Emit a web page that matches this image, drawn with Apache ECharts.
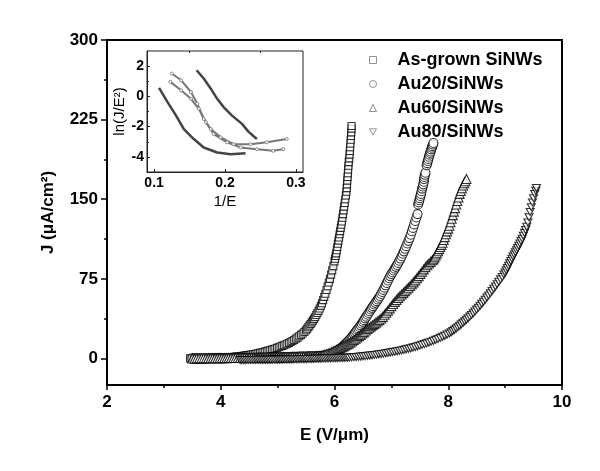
<!DOCTYPE html>
<html>
<head>
<meta charset="utf-8">
<script src="https://cdn.jsdelivr.net/npm/echarts@6/dist/echarts.min.js"></script>
<style>
  html, body { margin: 0; padding: 0; background: #fff; }
  #chart { width: 600px; height: 471px; }
</style>
</head>
<body>
<div id="chart"></div>
<script>
// names of the four samples
const seriesNames = ['As-grown SiNWs', 'Au20/SiNWs', 'Au60/SiNWs', 'Au80/SiNWs']

// main plot: [E (V/um), J (uA/cm2)]
const asGrown = [
  [3.46,0.1],[3.49,0.1],[3.52,0.1],[3.55,0.1],[3.58,0.2],[3.61,0.2],[3.64,0.2],[3.67,0.2],[3.70,0.2],
  [3.73,0.3],[3.76,0.3],[3.79,0.3],[3.82,0.4],[3.85,0.4],[3.88,0.4],[3.91,0.5],[3.94,0.5],[3.97,0.6],
  [4.00,0.7],[4.03,0.7],[4.06,0.8],[4.09,0.9],[4.12,1.0],[4.15,1.1],[4.18,1.2],[4.21,1.4],[4.24,1.5],
  [4.27,1.7],[4.30,1.9],[4.33,2.0],[4.36,2.2],[4.39,2.4],[4.42,2.7],[4.45,2.9],[4.48,3.1],[4.51,3.4],
  [4.54,3.7],[4.57,3.9],[4.60,4.2],[4.63,4.6],[4.66,4.9],[4.69,5.3],[4.72,5.6],[4.75,6.0],[4.78,6.4],
  [4.81,6.9],[4.84,7.4],[4.87,7.8],[4.90,8.3],[4.93,8.9],[4.96,9.4],[4.99,10.0],
  [5.02,10.6],[5.05,11.2],[5.08,11.9],[5.11,12.5],[5.14,13.2],[5.17,13.9],[5.20,14.6],[5.23,15.5],
  [5.26,16.4],[5.29,17.4],[5.32,18.5],[5.35,19.6],[5.38,20.9],[5.41,22.2],[5.44,23.5],[5.47,25.0],
  [5.50,26.6],[5.52,28.0],[5.54,29.4],[5.56,30.9],[5.58,32.4],[5.60,34.0],[5.62,35.6],[5.64,37.3],
  [5.66,39.0],[5.68,40.9],[5.70,42.8],[5.72,44.8],[5.74,47.0],[5.76,49.5],[5.78,52.0],[5.80,55.0],
  [5.82,58.0],[5.84,61.0],[5.86,64.5],[5.88,68.0],[5.90,71.5],[5.92,75.0],[5.94,79.0],[5.96,83.0],
  [5.98,87.0],[6.00,91.5],[6.01,94],[6.02,96.5],[6.03,99],[6.04,102],[6.05,105],[6.06,108],
  [6.07,111],[6.08,114],[6.09,117],[6.10,120],[6.11,123],[6.12,126],[6.13,129],[6.14,132.5],
  [6.15,136],[6.16,139.5],[6.17,143],[6.18,146.5],[6.19,150],[6.20,153.5],[6.21,157],[6.215,160.5],
  [6.22,164],[6.225,167.5],[6.23,171],[6.235,174.5],[6.24,178],[6.245,181.5],[6.25,185],[6.26,188.5],
  [6.265,192],[6.27,195.5],[6.275,199],[6.28,202.5],[6.285,206],[6.29,209.5],[6.295,213],[6.30,216.5],
  [6.30,219]
]
const au20 = [
  [3.50,0.1],[3.54,0.1],[3.58,0.1],[3.62,0.1],[3.66,0.2],[3.70,0.2],[3.74,0.2],[3.78,0.2],[3.82,0.2],
  [3.86,0.3],[3.90,0.3],[3.94,0.3],[3.98,0.3],[4.02,0.3],[4.06,0.4],[4.10,0.4],[4.14,0.4],[4.18,0.4],
  [4.22,0.5],[4.26,0.5],[4.30,0.5],[4.34,0.5],[4.38,0.6],[4.42,0.6],[4.46,0.6],[4.50,0.6],[4.54,0.7],
  [4.58,0.7],[4.62,0.7],[4.66,0.8],[4.70,0.8],[4.74,0.9],[4.78,0.9],[4.82,0.9],[4.86,1.0],[4.90,1.0],
  [4.94,1.1],[4.98,1.1],[5.02,1.2],[5.06,1.2],[5.10,1.3],[5.14,1.3],[5.18,1.4],[5.22,1.4],[5.26,1.5],
  [5.30,1.6],[5.34,1.6],[5.38,1.7],[5.42,1.8],[5.46,1.8],[5.50,1.9],[5.54,2.0],[5.58,2.0],[5.62,2.1],
  [5.66,2.1],[5.70,2.2],[5.74,2.2],[5.78,2.3],
  [5.82,2.6],[5.85,3.0],[5.88,3.4],[5.91,3.8],[5.94,4.3],[5.97,4.9],[6.00,5.8],[6.02,6.3],[6.04,6.9],
  [6.06,7.5],[6.08,8.2],[6.10,9.1],[6.12,10.0],[6.14,11.0],[6.16,12.0],[6.18,13.0],[6.20,14.0],
  [6.22,15.1],[6.24,16.2],[6.26,17.3],[6.28,18.5],[6.30,19.9],[6.32,21.3],[6.34,22.8],[6.36,24.2],
  [6.38,25.6],[6.40,27.0],[6.42,28.3],[6.44,29.6],[6.46,31.2],[6.48,32.8],[6.50,34.5],[6.52,36.1],
  [6.54,37.8],[6.56,39.4],[6.58,41.2],[6.60,42.8],[6.62,44.5],[6.64,46.1],[6.66,47.7],[6.68,49.3],
  [6.70,50.8],[6.72,52.4],[6.74,54.0],[6.76,55.6],[6.78,57.2],[6.80,58.8],[6.82,60.7],[6.84,62.6],
  [6.86,64.6],[6.88,66.7],[6.90,68.9],[6.92,71.2],[6.94,73.4],[6.96,75.6],[6.98,77.6],[7.00,79.5],
  [7.02,81.2],[7.04,82.9],[7.06,84.6],[7.08,86.3],[7.10,88.1],[7.12,90.0],[7.14,92.0],[7.16,94.1],
  [7.18,96.3],[7.20,98.6],[7.22,100.9],[7.24,103.3],[7.26,105.8],[7.28,108.3],[7.30,110.8],[7.32,113.4],
  [7.34,116.5],[7.36,119.8],[7.38,123.0],[7.40,126.3],[7.42,129.5],[7.44,132.8],[7.46,136.0],
  [7.47,145],[7.48,147],[7.49,149],[7.50,151],[7.51,153],[7.52,155],[7.53,157.5],[7.54,160],[7.55,162],
  [7.56,164],[7.57,166.5],[7.575,169],[7.58,171],[7.59,173],[7.60,175],
  [7.62,182],[7.63,184],[7.64,186],[7.65,188],[7.66,190],[7.67,192],[7.68,193.5],[7.69,195],[7.70,197],
  [7.71,198.5],[7.72,200],[7.73,201.5],[7.74,203]
]
const au60 = [
  [3.50,0.0],[3.54,0.0],[3.58,0.1],[3.62,0.1],[3.66,0.1],[3.70,0.1],[3.74,0.1],[3.78,0.2],[3.82,0.2],
  [3.86,0.2],[3.90,0.2],[3.94,0.2],[3.98,0.3],[4.02,0.3],[4.06,0.3],[4.10,0.3],[4.14,0.4],[4.18,0.4],
  [4.22,0.4],[4.26,0.4],[4.30,0.4],[4.34,0.5],[4.38,0.5],[4.42,0.5],[4.46,0.5],[4.50,0.5],[4.54,0.6],
  [4.58,0.6],[4.62,0.6],[4.66,0.7],[4.70,0.7],[4.74,0.7],[4.78,0.8],[4.82,0.8],[4.86,0.9],[4.90,0.9],
  [4.94,0.9],[4.98,1.0],[5.02,1.0],[5.06,1.1],[5.10,1.1],[5.14,1.2],[5.18,1.2],[5.22,1.3],[5.26,1.3],
  [5.30,1.4],[5.34,1.4],[5.38,1.5],[5.42,1.5],[5.46,1.6],[5.50,1.7],[5.54,1.8],[5.58,1.8],[5.62,1.9],
  [5.66,2.0],[5.70,2.1],
  [5.74,2.4],[5.77,2.8],[5.80,3.2],[5.83,3.6],[5.86,4.1],[5.89,4.6],[5.92,5.2],[5.95,6.1],[5.98,6.9],
  [6.01,7.5],[6.04,8.2],[6.07,8.9],[6.10,9.8],[6.13,10.6],[6.16,11.4],[6.19,12.3],[6.22,13.1],[6.25,14.0],
  [6.28,15.2],[6.31,16.2],[6.34,17.4],[6.37,18.6],[6.40,19.8],[6.43,21.0],[6.46,22.2],[6.49,23.5],
  [6.52,24.8],[6.55,26.3],[6.58,27.8],[6.61,29.0],[6.64,30.2],[6.67,31.4],[6.70,32.6],[6.73,33.8],
  [6.76,35.0],[6.79,36.2],[6.82,37.6],[6.85,39.2],[6.88,41.2],[6.91,43.0],[6.94,45.1],[6.97,47.2],
  [7.00,49.3],[7.03,51.3],[7.06,53.3],[7.09,55.1],[7.12,56.9],[7.15,58.6],[7.18,60.2],[7.21,61.8],
  [7.24,63.4],[7.27,65.0],[7.30,66.6],[7.33,68.2],[7.36,69.9],[7.39,71.7],[7.42,73.6],[7.45,75.5],
  [7.48,77.6],[7.51,79.7],[7.54,81.8],[7.57,83.9],[7.60,86.0],[7.63,87.8],[7.66,89.5],[7.69,91.0],
  [7.72,92.5],[7.74,93.5],[7.76,95.2],[7.78,97.0],[7.80,99.0],[7.82,101.0],[7.84,103.0],[7.86,105.0],
  [7.88,107.0],[7.90,109.0],[7.92,111.6],[7.94,114.3],[7.96,117.0],[7.98,119.7],[8.00,122.3],[8.02,125.0],
  [8.04,128.3],[8.06,131.6],[8.08,135.0],[8.10,138.3],[8.12,141.6],[8.14,145.0],[8.16,148.3],[8.18,151.6],
  [8.20,155.0],[8.22,157.7],[8.24,160.3],[8.26,163.0],[8.28,165.0],[8.30,167.0],[8.32,169.0]
]
const au80 = [
  [4.34,-1.5],[4.37,-1.5],[4.40,-1.5],[4.43,-1.5],[4.46,-1.4],[4.49,-1.4],[4.52,-1.4],[4.55,-1.4],
  [4.58,-1.4],[4.61,-1.3],[4.64,-1.3],[4.67,-1.3],[4.70,-1.3],[4.73,-1.3],[4.76,-1.2],[4.79,-1.2],
  [4.82,-1.2],[4.85,-1.2],[4.88,-1.2],[4.91,-1.1],[4.94,-1.1],[4.97,-1.1],[5.00,-1.0],[5.03,-1.0],
  [5.06,-1.0],[5.09,-1.0],[5.12,-0.9],[5.15,-0.9],[5.18,-0.9],[5.21,-0.8],[5.24,-0.8],[5.27,-0.8],
  [5.30,-0.7],[5.33,-0.7],[5.36,-0.7],[5.39,-0.6],[5.42,-0.6],[5.45,-0.6],[5.48,-0.5],[5.51,-0.5],
  [5.54,-0.4],[5.57,-0.4],[5.60,-0.3],[5.63,-0.3],[5.66,-0.2],[5.69,-0.2],[5.72,-0.1],[5.75,-0.1],
  [5.78,0.0],[5.81,0.0],[5.84,0.1],[5.87,0.1],[5.90,0.2],[5.93,0.2],[5.96,0.3],[5.99,0.3],
  [6.02,0.4],[6.05,0.4],[6.08,0.5],[6.11,0.5],[6.14,0.6],[6.17,0.6],[6.20,0.7],[6.23,0.7],[6.26,0.8],
  [6.30,1.0],[6.34,1.2],[6.38,1.4],[6.42,1.6],[6.46,1.8],[6.50,2.0],[6.54,2.2],[6.58,2.5],[6.62,2.7],
  [6.66,3.0],[6.70,3.3],[6.74,3.6],[6.78,3.9],[6.82,4.2],[6.86,4.5],[6.90,4.9],[6.94,5.2],[6.98,5.6],
  [7.02,6.0],[7.06,6.4],[7.10,6.8],[7.14,7.2],[7.18,7.6],[7.22,8.1],[7.26,8.6],[7.30,9.1],[7.34,9.6],
  [7.38,10.2],[7.42,10.8],[7.46,11.5],[7.50,12.1],[7.54,12.8],[7.58,13.5],[7.62,14.2],[7.66,15.0],
  [7.70,15.8],[7.74,16.6],[7.78,17.5],[7.82,18.4],[7.86,19.4],[7.90,20.4],[7.94,21.4],[7.98,22.5],
  [8.02,23.6],[8.05,24.7],[8.08,25.8],[8.11,27.0],[8.14,28.2],[8.17,29.5],[8.20,30.8],[8.23,32.2],
  [8.26,33.6],[8.29,35.0],[8.32,36.4],[8.35,37.9],[8.38,39.4],[8.41,41.0],[8.44,42.6],[8.47,44.3],
  [8.50,46.0],[8.53,47.8],[8.56,49.6],[8.59,51.5],[8.62,53.4],[8.65,55.4],[8.68,57.4],[8.71,59.4],
  [8.74,61.5],[8.77,63.5],[8.80,65.6],[8.83,67.8],[8.86,70.0],[8.89,72.2],[8.92,74.5],[8.95,76.7],
  [8.98,79.0],[9.00,81.0],[9.02,83.0],[9.04,85.2],[9.06,87.4],[9.08,89.6],[9.10,91.8],[9.12,94.0],
  [9.14,96.0],[9.16,98.0],[9.18,100.0],[9.20,102.0],[9.22,104.0],[9.24,106.2],[9.26,108.4],[9.28,110.6],
  [9.30,112.8],[9.32,115.5],[9.34,118.3],[9.36,121.0],[9.38,124.0],[9.40,128.0],[9.42,133.0],[9.44,138.0],
  [9.46,142.5],[9.48,147.0],[9.50,151.0],[9.52,155.0],[9.54,158.0],[9.55,160.5]
]

// inset: [1/E, ln(J/E^2)]
const insetAsGrown = [[0.160,1.73],[0.170,1.18],[0.180,0.51],[0.189,-0.16],[0.198,-0.71],[0.210,-1.27],[0.224,-1.82],[0.233,-2.33],[0.240,-2.62],[0.245,-2.82]]
const insetAu20 = [[0.125,1.51],[0.138,1.07],[0.152,0.29],[0.161,-0.49],[0.170,-1.49],[0.180,-2.16],[0.194,-2.71],[0.212,-3.16],[0.236,-3.16],[0.259,-3.04],[0.287,-2.82]]
const insetAu60 = [[0.123,0.96],[0.138,0.40],[0.152,-0.16],[0.163,-0.82],[0.173,-1.71],[0.184,-2.49],[0.203,-3.04],[0.222,-3.38],[0.245,-3.49],[0.268,-3.60],[0.282,-3.49]]
const insetAu80 = [[0.107,0.56],[0.119,-0.38],[0.131,-1.27],[0.142,-2.16],[0.156,-2.82],[0.170,-3.38],[0.189,-3.71],[0.208,-3.82],[0.229,-3.76]]

// tick positions
const yTicks = [0, 75, 150, 225, 300]
const yMinorTicks = [37.5, 112.5, 187.5, 262.5]
const insetXTicks = [0.1, 0.2, 0.3]
const insetXMinor = [0.15, 0.25]
const insetYTicks = [-4, -2, 0, 2]
const insetYMinor = [-3, -1, 1]

const font = '"Liberation Sans", Arial, sans-serif'
const chart = echarts.init(document.getElementById('chart'))

const hollow = { color: '#fff', borderColor: '#000', borderWidth: 1.1 }
const downTriangle = 'path://M0,0L10,0L5,9Z'

const boldText = { fontFamily: font, fontWeight: 'bold', color: '#000' }

chart.setOption({
  animation: false,
  backgroundColor: '#fff',
  textStyle: { fontFamily: font },
  legend: {
    orient: 'vertical',
    left: 364,
    top: 46,
    itemGap: 6,
    itemWidth: 7,
    itemHeight: 7,
    itemStyle: { color: '#fff', borderColor: '#777', borderWidth: 1 },
    textStyle: Object.assign({ fontSize: 18, padding: [0, 0, 0, 16] }, boldText),
    data: seriesNames
  },
  grid: [
    { left: 107, top: 40, width: 455, height: 345, show: true, borderColor: '#000', borderWidth: 2 },
    { left: 147, top: 51, width: 156, height: 121, show: true, borderColor: '#222', borderWidth: 1, backgroundColor: '#fff' }
  ],
  xAxis: [
    {
      gridIndex: 0, type: 'value', min: 2, max: 10, interval: 2,
      axisLine: { onZero: false, lineStyle: { color: '#000', width: 2 } },
      axisTick: { length: 5, lineStyle: { color: '#000', width: 1.5 } },
      minorTick: { show: true, splitNumber: 2, length: 3, lineStyle: { color: '#000', width: 1.5 } },
      splitLine: { show: false },
      axisLabel: Object.assign({ fontSize: 17, margin: 9 }, boldText),
      name: 'E (V/μm)', nameLocation: 'middle', nameGap: 42,
      nameTextStyle: Object.assign({ fontSize: 17 }, boldText)
    },
    {
      gridIndex: 1, type: 'value', min: 0.09, max: 0.31,
      axisLine: { onZero: false, lineStyle: { color: '#222', width: 1 } },
      axisTick: { inside: true, length: 3, customValues: insetXTicks, lineStyle: { color: '#222' } },
      splitLine: { show: false },
      axisLabel: Object.assign({ fontSize: 14, margin: 4, customValues: insetXTicks }, boldText),
      name: '1/E', nameLocation: 'middle', nameGap: 22,
      nameTextStyle: { fontFamily: font, fontSize: 15, color: '#000' }
    },
    {
      gridIndex: 1, type: 'value', min: 0.09, max: 0.31,
      axisLine: { show: false, onZero: false },
      axisTick: { inside: true, length: 2, customValues: insetXMinor, lineStyle: { color: '#222' } },
      axisLabel: { show: false }, splitLine: { show: false }
    }
  ],
  yAxis: [
    {
      gridIndex: 0, type: 'value', min: -25, max: 300,
      axisLine: { show: true, onZero: false, lineStyle: { color: '#000', width: 2 } },
      axisTick: { show: true, length: 6, customValues: yTicks, lineStyle: { color: '#000', width: 1.5 } },
      splitLine: { show: false },
      axisLabel: Object.assign({ fontSize: 17, margin: 9, customValues: yTicks }, boldText),
      name: 'J (μA/cm²)', nameLocation: 'middle', nameGap: 50,
      nameTextStyle: Object.assign({ fontSize: 17 }, boldText)
    },
    {
      gridIndex: 0, type: 'value', min: -25, max: 300, position: 'left',
      axisLine: { show: false, onZero: false },
      axisTick: { show: true, length: 3, customValues: yMinorTicks, lineStyle: { color: '#000', width: 1.5 } },
      axisLabel: { show: false }, splitLine: { show: false }
    },
    {
      gridIndex: 1, type: 'value', min: -5, max: 3,
      axisLine: { show: true, onZero: false, lineStyle: { color: '#222', width: 1 } },
      axisTick: { show: true, inside: true, length: 3, customValues: insetYTicks, lineStyle: { color: '#222' } },
      splitLine: { show: false },
      axisLabel: Object.assign({ fontSize: 14, margin: 3, customValues: insetYTicks }, boldText),
      name: 'ln(J/E²)', nameLocation: 'middle', nameGap: 16,
      nameTextStyle: { fontFamily: font, fontSize: 15, color: '#000' }
    },
    {
      gridIndex: 1, type: 'value', min: -5, max: 3, position: 'left',
      axisLine: { show: false, onZero: false },
      axisTick: { show: true, inside: true, length: 2, customValues: insetYMinor, lineStyle: { color: '#222' } },
      axisLabel: { show: false }, splitLine: { show: false }
    }
  ],
  series: [
    { name: seriesNames[0], type: 'scatter', xAxisIndex: 0, yAxisIndex: 0, symbol: 'rect', symbolSize: 7, itemStyle: hollow, data: asGrown, silent: true },
    { name: seriesNames[1], type: 'scatter', xAxisIndex: 0, yAxisIndex: 0, symbol: 'circle', symbolSize: 9, itemStyle: hollow, data: au20, silent: true },
    { name: seriesNames[2], type: 'scatter', xAxisIndex: 0, yAxisIndex: 0, symbol: 'triangle', symbolSize: 9, itemStyle: hollow, data: au60, silent: true },
    { name: seriesNames[3], type: 'scatter', xAxisIndex: 0, yAxisIndex: 0, symbol: downTriangle, symbolSize: [8, 7], itemStyle: hollow, data: au80, silent: true },
    { type: 'line', xAxisIndex: 1, yAxisIndex: 2, data: insetAsGrown, symbol: 'none', lineStyle: { color: '#444', width: 2.5 }, silent: true },
    { type: 'line', xAxisIndex: 1, yAxisIndex: 2, data: insetAu20, symbol: 'circle', symbolSize: 3, itemStyle: { color: '#fff', borderColor: '#888' }, lineStyle: { color: '#777', width: 2 }, silent: true },
    { type: 'line', xAxisIndex: 1, yAxisIndex: 2, data: insetAu60, symbol: 'circle', symbolSize: 3, itemStyle: { color: '#fff', borderColor: '#888' }, lineStyle: { color: '#777', width: 2 }, silent: true },
    { type: 'line', xAxisIndex: 1, yAxisIndex: 2, data: insetAu80, symbol: 'none', lineStyle: { color: '#444', width: 2.5 }, silent: true }
  ]
})
</script>
</body>
</html>
